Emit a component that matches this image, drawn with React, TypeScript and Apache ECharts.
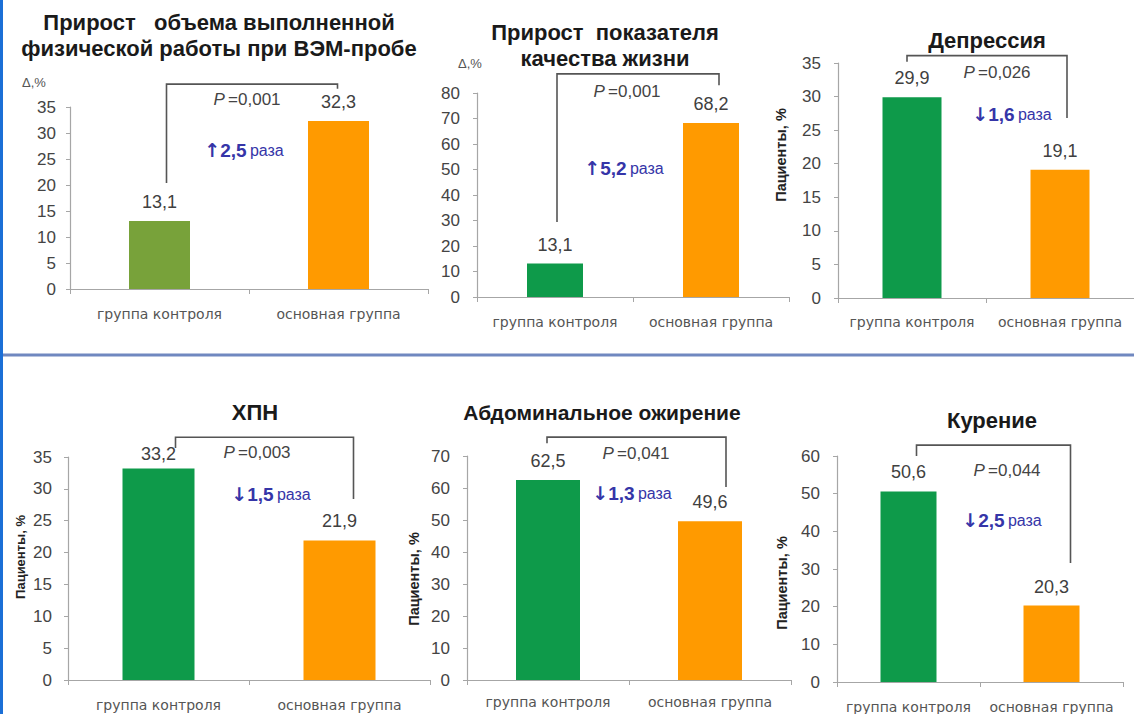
import React, { useEffect, useRef } from "react";
import * as echarts from "echarts";

// ---- data ----
const categories = ["группа контроля", "основная группа"];
const titles = [
  "Прирост   объема выполненной\nфизической работы при ВЭМ-пробе",
  "Прирост  показателя\nкачества жизни",
  "Депрессия",
  "ХПН",
  "Абдоминальное ожирение",
  "Курение",
];
const workGain = [13.1, 32.3];
const qualityGain = [13.1, 68.2];
const depression = [29.9, 19.1];
const chronicHF = [33.2, 21.9];
const abdominalObesity = [62.5, 49.6];
const smoking = [50.6, 20.3];
const panelValues = [workGain, qualityGain, depression, chronicHF, abdominalObesity, smoking];
const yMax = [35, 80, 35, 35, 70, 60];
const yInterval = [5, 10, 5, 5, 10, 10];
const pValues = ["0,001", "0,001", "0,026", "0,003", "0,041", "0,044"];
const ratios = ["2,5", "5,2", "1,6", "1,5", "1,3", "2,5"];
const directions = ["↑", "↑", "↓", "↓", "↓", "↓"];
const yAxisNames = ["Δ,%", "Δ,%", "Пациенты, %", "Пациенты, %", "Пациенты, %", "Пациенты, %"];
// bracket heights in data units: [left leg bottom, top, right leg bottom]
const brackets = [
  [20.4, 39.4, 38.5],
  [29.4, 87.5, 83],
  [35.2, 36.1, 26.8],
  [36.4, 38.1, 28.4],
  [74, 75.9, 60.3],
  [60, 62.9, 31.6],
];

// ---- layout / style ----
const grids = [
  { left: 70, top: 107, width: 358, height: 182 },
  { left: 477, top: 93, width: 312, height: 204 },
  { left: 838, top: 63, width: 298, height: 235 },
  { left: 68, top: 457, width: 362, height: 223 },
  { left: 467, top: 456, width: 324, height: 224 },
  { left: 837, top: 456, width: 286, height: 226 },
];
const barWidths = [61, 56, 59, 72, 64, 56];
const xLabelMargins = [18, 18, 17, 18, 15, 18];
const yLabelMargins = [14, 17, 17, 16, 17, 17];
const bracketOffsets = [
  [7, -1],
  [2, 8],
  [-5, 7],
  [17, 14],
  [-1, 16],
  [8, 19],
];
const titlePos = [
  [219, 35],
  [605, 45],
  [987, 40],
  [255, 412],
  [602, 412],
  [992, 420],
];
const titleSizes = [22, 22, 22, 22, 21, 22];
const pPos = [
  [247, 99],
  [627, 91],
  [997, 72],
  [257, 452],
  [636, 453],
  [1007, 470],
];
const ratioPos = [
  [244, 150],
  [624, 168],
  [1012, 114],
  [271, 494],
  [632, 493],
  [1002, 520],
];
const yNamePos = [
  [34, 82],
  [470, 63],
  [781, 155],
  [20, 557],
  [414, 579],
  [782, 583],
];
const yNameSize = [13, 13, 14.5, 13, 14.5, 14.5];
const greens = ["#78a23a", "#0e9a4a", "#0e9a4a", "#0e9a4a", "#0e9a4a", "#0e9a4a"];
const orange = "#ff9a00";
const FONT = "Liberation Sans";
const BLUE = "#3535a8";

function buildOption() {
  const grid: any[] = [];
  const xAxis: any[] = [];
  const yAxis: any[] = [];
  const series: any[] = [];
  const graphic: any[] = [];

  panelValues.forEach((vals, i) => {
    grid.push({ ...grids[i], containLabel: false });
    xAxis.push({
      type: "category",
      gridIndex: i,
      data: categories,
      axisLine: { lineStyle: { color: "#a6a6a6", width: 1.2 } },
      axisTick: { show: true, length: 5, lineStyle: { color: "#a6a6a6" } },
      axisLabel: {
        interval: 0,
        margin: xLabelMargins[i],
        fontFamily: "DejaVu Sans",
        fontSize: 14,
        color: "#555",
      },
    });
    yAxis.push({
      type: "value",
      gridIndex: i,
      min: 0,
      max: yMax[i],
      interval: yInterval[i],
      splitLine: { show: false },
      axisLine: { show: true, lineStyle: { color: "#a6a6a6", width: 1.2 } },
      axisTick: { show: true, length: 4, lineStyle: { color: "#a6a6a6" } },
      axisLabel: {
        margin: yLabelMargins[i],
        fontFamily: FONT,
        fontSize: 17,
        color: "#444",
      },
    });
    series.push({
      type: "bar",
      xAxisIndex: i,
      yAxisIndex: i,
      barWidth: barWidths[i],
      data: vals.map((v, k) => ({
        value: v,
        itemStyle: { color: k === 0 ? greens[i] : orange },
        label: { distance: i === 3 && k === 0 ? 5 : 10 },
      })),
      label: {
        show: true,
        position: "top",
        fontFamily: FONT,
        fontSize: 18,
        color: "#404040",
        formatter: (p: any) => String(p.value).replace(".", ","),
      },
    });
    const off = bracketOffsets[i];
    series.push({
      type: "custom",
      xAxisIndex: i,
      yAxisIndex: i,
      silent: true,
      data: [[0, brackets[i][0], brackets[i][1], brackets[i][2]]],
      encode: { x: 0, y: 2 },
      renderItem: (params: any, api: any) => {
        const a = api.coord([0, api.value(1)]);
        const b = api.coord([0, api.value(2)]);
        const c = api.coord([1, api.value(2)]);
        const d = api.coord([1, api.value(3)]);
        return {
          type: "polyline",
          shape: {
            points: [
              [a[0] + off[0], a[1]],
              [b[0] + off[0], b[1]],
              [c[0] + off[1], c[1]],
              [d[0] + off[1], d[1]],
            ],
          },
          style: { stroke: "#555", lineWidth: 1.6, fill: null },
        };
      },
    });

    graphic.push({
      type: "text",
      x: titlePos[i][0],
      y: titlePos[i][1],
      style: {
        text: titles[i],
        fontFamily: FONT,
        fontWeight: "bold",
        fontSize: titleSizes[i],
        lineHeight: 26,
        fill: "#1a1a1a",
        align: "center",
        verticalAlign: "middle",
      },
    });
    graphic.push({
      type: "text",
      x: pPos[i][0],
      y: pPos[i][1],
      style: {
        text: "{i|P} {n|=" + pValues[i] + "}",
        rich: {
          i: { fontFamily: FONT, fontStyle: "italic", fontSize: 17, fill: "#444" },
          n: { fontFamily: FONT, fontSize: 17, fill: "#444" },
        },
        align: "center",
        verticalAlign: "middle",
      },
    });
    graphic.push({
      type: "text",
      x: ratioPos[i][0],
      y: ratioPos[i][1],
      style: {
        text: "{r|" + directions[i] + "}{a|" + ratios[i] + "} {b|раза}",
        rich: {
          r: { fontFamily: "DejaVu Sans", fontWeight: "bold", fontSize: 19, fill: BLUE },
          a: { fontFamily: FONT, fontWeight: "bold", fontSize: 19, fill: BLUE },
          b: { fontFamily: FONT, fontSize: 16, fill: BLUE },
        },
        align: "center",
        verticalAlign: "middle",
      },
    });
    const rotated = i >= 2;
    graphic.push({
      type: "text",
      x: yNamePos[i][0],
      y: yNamePos[i][1],
      rotation: rotated ? Math.PI / 2 : 0,
      style: {
        text: yAxisNames[i],
        fontFamily: FONT,
        fontWeight: rotated ? "bold" : "normal",
        fontSize: yNameSize[i],
        fill: rotated ? "#222" : "#555",
        align: "center",
        verticalAlign: "middle",
      },
    });
  });

  graphic.push({
    type: "rect",
    shape: { x: 0, y: 353.5, width: 1134, height: 3 },
    style: { fill: "#7088c0" },
  });
  graphic.push({
    type: "rect",
    shape: { x: 0, y: 0, width: 3, height: 714 },
    style: { fill: "#1b6fd6" },
  });

  return {
    animation: false,
    backgroundColor: "#ffffff",
    grid,
    xAxis,
    yAxis,
    series,
    graphic,
  };
}

export default function App() {
  const ref = useRef<HTMLDivElement>(null);
  useEffect(() => {
    if (!ref.current) return;
    const chart = echarts.init(ref.current, null, { renderer: "svg" });
    chart.setOption(buildOption());
    return () => chart.dispose();
  }, []);
  return (
    <div
      ref={ref}
      style={{ position: "fixed", left: 0, top: 0, width: 1134, height: 714, background: "#fff" }}
    />
  );
}
